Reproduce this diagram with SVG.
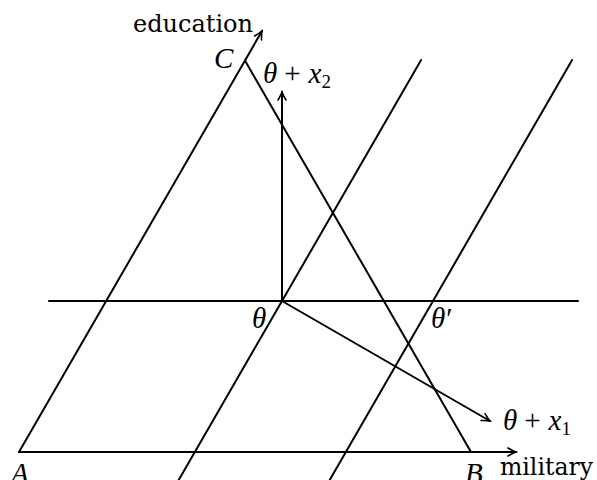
<svg xmlns="http://www.w3.org/2000/svg" width="597" height="480" viewBox="0 0 597 480">
<style>
.ln{stroke:#000;stroke-width:2;fill:none;stroke-linecap:round}
.t{font-family:"DejaVu Serif","Liberation Serif",serif;font-size:24px;fill:#000}
.m{font-family:"Liberation Serif","DejaVu Serif",serif;font-size:29px;font-style:italic;fill:#000}
.up{font-style:normal}
</style>
<defs>
<marker id="ah" viewBox="-10 -6 12 12" refX="0" refY="0" markerWidth="12" markerHeight="12" markerUnits="userSpaceOnUse" orient="auto">
<path d="M-8,-4 Q-3,-1 0,0 Q-3,1 -8,4" fill="none" stroke="#000" stroke-width="1.6" stroke-linecap="round"/>
</marker>
</defs>
<g id="connectors">
<line class="ln" x1="19" y1="452" x2="516" y2="452" marker-end="url(#ah)"/>
<line class="ln" x1="19" y1="452" x2="262" y2="31" marker-end="url(#ah)"/>
<line class="ln" x1="471" y1="452" x2="245" y2="60.6"/>
<line class="ln" x1="49" y1="301" x2="578" y2="301"/>
<line class="ln" x1="178.7" y1="480" x2="421.1" y2="60"/>
<line class="ln" x1="329.7" y1="480" x2="572.1" y2="60"/>
<line class="ln" x1="282" y1="301" x2="282" y2="92" marker-end="url(#ah)"/>
<line class="ln" x1="282" y1="301" x2="490" y2="421" marker-end="url(#ah)"/>
</g>
<g id="label-education"><text class="t" x="133" y="32" textLength="120" lengthAdjust="spacingAndGlyphs">education</text></g>
<g id="label-military"><text class="t" x="500" y="475" textLength="93" lengthAdjust="spacingAndGlyphs">military</text></g>
<g id="node-C"><text class="m" x="214" y="68" font-size="25">C</text></g>
<g id="node-A"><text class="m" x="11" y="483" font-size="25">A</text></g>
<g id="node-B"><text class="m" x="465" y="483" font-size="25">B</text></g>
<g id="node-theta"><text class="m" x="252" y="328">θ</text></g>
<g id="node-thetaprime"><text class="m" x="431" y="328">θ<tspan class="up" dx="1">′</tspan></text></g>
<g id="node-theta-x2"><text class="m" x="263" y="83">θ<tspan class="up" dx="7">+</tspan><tspan dx="8">x</tspan><tspan class="up" font-size="19" dy="5">2</tspan></text></g>
<g id="node-theta-x1"><text class="m" x="503" y="430">θ<tspan class="up" dx="7">+</tspan><tspan dx="8">x</tspan><tspan class="up" font-size="19" dy="5">1</tspan></text></g>
</svg>
